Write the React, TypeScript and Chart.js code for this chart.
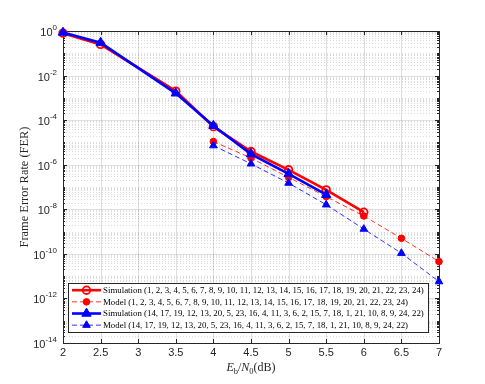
import React, { useEffect, useRef } from "react";
import { Chart, registerables } from "chart.js";

Chart.register(...registerables);

// ---- data ----
const xTicks = [2, 2.5, 3, 3.5, 4, 4.5, 5, 5.5, 6, 6.5, 7];
const yTickExps = [0, -2, -4, -6, -8, -10, -12, -14];

const simNaturalX = [2, 2.5, 3.5, 4, 4.5, 5, 5.5, 6];
const simNaturalY = [0.8, 0.25, 2.0e-3, 5.1e-5, 3.9e-6, 5.9e-7, 7.4e-8, 7.4e-9];

const modelNaturalX = [4, 4.5, 5, 5.5, 6, 6.5, 7];
const modelNaturalY = [1.1e-5, 2.0e-6, 2.7e-7, 3.7e-8, 5.0e-9, 5.0e-10, 4.5e-11];

const simPermX = [2, 2.5, 3.5, 4, 4.5, 5, 5.5];
const simPermY = [0.85, 0.3, 1.6e-3, 5.6e-5, 3.0e-6, 3.9e-7, 4.5e-8];

const modelPermX = [4, 4.5, 5, 5.5, 6, 6.5, 7];
const modelPermY = [7.2e-6, 1.1e-6, 1.5e-7, 1.6e-8, 1.3e-9, 1.07e-10, 5.7e-12];

const naturalOrder = [1, 2, 3, 4, 5, 6, 7, 8, 9, 10, 11, 12, 13, 14, 15, 16, 17, 18, 19, 20, 21, 22, 23, 24];
const permOrder = [14, 17, 19, 12, 13, 20, 5, 23, 16, 4, 11, 3, 6, 2, 15, 7, 18, 1, 21, 10, 8, 9, 24, 22];

const seriesNames = [
  `Simulation (${naturalOrder.join(", ")})`,
  `Model (${naturalOrder.join(", ")})`,
  `Simulation (${permOrder.join(", ")})`,
  `Model (${permOrder.join(", ")})`,
];

const yTitle = "Frame Error Rate (FER)";

const RED = "#ff0000";
const BLUE = "#0000ff";
const AXIS = "#262626";
const SANS = "'Liberation Sans', Arial, sans-serif";
const SERIF = "'Liberation Serif', 'DejaVu Serif', serif";

type Marker = { style: "circle" | "triangle"; r: number; fill: string; stroke: string; bw: number };

const markers: Marker[] = [
  { style: "circle", r: 3.8, fill: "rgba(255,255,255,0)", stroke: RED, bw: 1.8 },
  { style: "circle", r: 3.3, fill: RED, stroke: RED, bw: 1 },
  { style: "triangle", r: 5.4, fill: BLUE, stroke: BLUE, bw: 1 },
  { style: "triangle", r: 4.4, fill: BLUE, stroke: BLUE, bw: 1 },
];
const lineStyles = [
  { color: RED, width: 2.6, dash: [] as number[] },
  { color: "rgba(255,0,0,0.8)", width: 1, dash: [5, 3] },
  { color: BLUE, width: 2.6, dash: [] as number[] },
  { color: "rgba(0,0,255,0.8)", width: 1, dash: [5, 3] },
];

function pts(xs: number[], ys: number[]) {
  return xs.map((x, i) => ({ x, y: ys[i] }));
}

function drawMarker(ctx: CanvasRenderingContext2D, m: Marker, x: number, y: number) {
  ctx.save();
  ctx.setLineDash([]);
  ctx.beginPath();
  if (m.style === "circle") {
    ctx.arc(x, y, m.r, 0, Math.PI * 2);
  } else {
    let rad = 0;
    ctx.moveTo(x + Math.sin(rad) * m.r, y - Math.cos(rad) * m.r);
    rad += (2 * Math.PI) / 3;
    ctx.lineTo(x + Math.sin(rad) * m.r, y - Math.cos(rad) * m.r);
    rad += (2 * Math.PI) / 3;
    ctx.lineTo(x + Math.sin(rad) * m.r, y - Math.cos(rad) * m.r);
    ctx.closePath();
  }
  ctx.fillStyle = m.fill;
  ctx.fill();
  ctx.lineWidth = m.bw;
  ctx.strokeStyle = m.stroke;
  ctx.stroke();
  ctx.restore();
}

function fitFont(ctx: CanvasRenderingContext2D, text: string, family: string, target: number) {
  ctx.font = `10px ${family}`;
  const w = ctx.measureText(text).width;
  return (10 * target) / w;
}

const framePlugin = {
  id: "matlabFrame",
  beforeDraw(chart: any) {
    const ctx = chart.ctx as CanvasRenderingContext2D;
    ctx.save();
    ctx.fillStyle = "#ffffff";
    ctx.fillRect(0, 0, chart.width, chart.height);
    ctx.restore();
  },
  beforeDatasetsDraw(chart: any) {
    const ctx = chart.ctx as CanvasRenderingContext2D;
    const { left, right, top, bottom } = chart.chartArea;
    const xs = chart.scales.x;
    const ys = chart.scales.y;
    ctx.save();
    // y grid: solid at labelled decades, dotted elsewhere
    ctx.lineWidth = 1;
    for (let e = -14; e <= 0; e++) {
      for (let m = 1; m <= 9; m++) {
        const v = m * Math.pow(10, e);
        if (v > 1.0000001) break;
        const major = m === 1 && e % 2 === 0;
        const py = Math.round(ys.getPixelForValue(v)) + 0.5;
        ctx.beginPath();
        if (major) {
          ctx.setLineDash([]);
          ctx.strokeStyle = "rgba(38,38,38,0.15)";
        } else {
          ctx.setLineDash([1, 2]);
          ctx.strokeStyle = "rgba(38,38,38,0.16)";
        }
        ctx.moveTo(left, py);
        ctx.lineTo(right, py);
        ctx.stroke();
      }
    }
    // x major grid
    ctx.setLineDash([]);
    ctx.strokeStyle = "rgba(38,38,38,0.15)";
    xTicks.forEach((t) => {
      const px = Math.round(xs.getPixelForValue(t)) + 0.5;
      ctx.beginPath();
      ctx.moveTo(px, top);
      ctx.lineTo(px, bottom);
      ctx.stroke();
    });

    // axis box
    ctx.strokeStyle = AXIS;
    ctx.lineWidth = 1;
    ctx.strokeRect(Math.round(left) + 0.5, Math.round(top) + 0.5, Math.round(right - left), Math.round(bottom - top));

    // x ticks (top & bottom, inward)
    ctx.beginPath();
    xTicks.forEach((t) => {
      const px = Math.round(xs.getPixelForValue(t)) + 0.5;
      ctx.moveTo(px, bottom);
      ctx.lineTo(px, bottom - 4);
      ctx.moveTo(px, top);
      ctx.lineTo(px, top + 4);
    });
    // y ticks (left & right)
    for (let e = -14; e <= 0; e++) {
      for (let m = 1; m <= 9; m++) {
        const v = m * Math.pow(10, e);
        if (v > 1.0000001) break;
        const major = m === 1 && e % 2 === 0;
        const len = major ? 4 : 2;
        const py = Math.round(ys.getPixelForValue(v)) + 0.5;
        ctx.moveTo(left, py);
        ctx.lineTo(left + len, py);
        ctx.moveTo(right, py);
        ctx.lineTo(right - len, py);
      }
    }
    ctx.stroke();

    // x tick labels
    ctx.fillStyle = AXIS;
    ctx.font = `11px ${SANS}`;
    ctx.textAlign = "center";
    ctx.textBaseline = "middle";
    xTicks.forEach((t) => {
      ctx.fillText(String(t), xs.getPixelForValue(t), bottom + 10);
    });

    // y tick labels: 10^e
    yTickExps.forEach((e) => {
      const py = ys.getPixelForValue(Math.pow(10, e));
      const expStr = e === 0 ? "0" : "-" + Math.abs(e);
      ctx.font = `8px ${SANS}`;
      const ew = ctx.measureText(expStr).width;
      const xEnd = left - 6;
      ctx.textAlign = "left";
      ctx.textBaseline = "alphabetic";
      ctx.fillText(expStr, xEnd - ew, py - 1);
      ctx.font = `11px ${SANS}`;
      ctx.textAlign = "right";
      ctx.fillText("10", xEnd - ew, py + 5);
    });

    // y title
    const fsY = fitFont(ctx, yTitle, SERIF, 121);
    ctx.save();
    ctx.translate(25, (top + bottom) / 2);
    ctx.rotate(-Math.PI / 2);
    ctx.font = `${fsY}px ${SERIF}`;
    ctx.textAlign = "center";
    ctx.textBaseline = "middle";
    ctx.fillText(yTitle, 0, 0);
    ctx.restore();

    // x title: E_b/N_0(dB)
    const parts = [
      { t: "E", f: `italic 12px ${SERIF}`, dy: 0 },
      { t: "b", f: `8.5px ${SERIF}`, dy: 2.5 },
      { t: "/", f: `12px ${SERIF}`, dy: 0 },
      { t: "N", f: `italic 12px ${SERIF}`, dy: 0 },
      { t: "0", f: `8.5px ${SERIF}`, dy: 2.5 },
      { t: "(dB)", f: `12px ${SERIF}`, dy: 0 },
    ];
    let total = 0;
    const widths = parts.map((p) => {
      ctx.font = p.f;
      const w = ctx.measureText(p.t).width;
      total += w;
      return w;
    });
    let cx = (left + right) / 2 - total / 2;
    ctx.textAlign = "left";
    ctx.textBaseline = "alphabetic";
    parts.forEach((p, i) => {
      ctx.font = p.f;
      ctx.fillText(p.t, cx, 371 + p.dy);
      cx += widths[i];
    });
    ctx.restore();
  },
  afterDatasetsDraw(chart: any) {
    const ctx = chart.ctx as CanvasRenderingContext2D;
    ctx.save();
    const bx = 68.5, by = 283.5, bw = 360, bh = 49;
    ctx.fillStyle = "#ffffff";
    ctx.fillRect(bx, by, bw, bh);
    ctx.strokeStyle = AXIS;
    ctx.lineWidth = 1;
    ctx.setLineDash([]);
    ctx.strokeRect(bx, by, bw, bh);
    const fs = fitFont(ctx, seriesNames[0], SERIF, 321);
    ctx.font = `${fs}px ${SERIF}`;
    seriesNames.forEach((name, i) => {
      const y = 290.2 + i * 11.65;
      const ls = lineStyles[i];
      ctx.save();
      ctx.beginPath();
      ctx.strokeStyle = ls.color;
      ctx.lineWidth = ls.width;
      ctx.setLineDash(ls.dash);
      ctx.moveTo(72, y);
      ctx.lineTo(101, y);
      ctx.stroke();
      ctx.restore();
      drawMarker(ctx, markers[i], 86.5, y);
      ctx.fillStyle = "#000000";
      ctx.font = `${fs}px ${SERIF}`;
      ctx.textAlign = "left";
      ctx.textBaseline = "middle";
      ctx.fillText(name, 103, y + 0.5);
    });
    ctx.restore();
  },
};

function ds(i: number, data: { x: number; y: number }[], order: number) {
  const ls = lineStyles[i];
  const m = markers[i];
  return {
    label: seriesNames[i],
    data,
    borderColor: ls.color,
    borderWidth: ls.width,
    borderDash: ls.dash,
    pointStyle: m.style,
    pointRadius: m.r,
    pointBorderWidth: m.bw,
    pointBackgroundColor: m.fill,
    pointBorderColor: m.stroke,
    fill: false,
    tension: 0,
    clip: false as any,
    order,
  };
}

export default function App() {
  const ref = useRef<HTMLCanvasElement | null>(null);
  useEffect(() => {
    if (!ref.current) return;
    const chart = new Chart(ref.current, {
      type: "line",
      data: {
        datasets: [
          ds(0, pts(simNaturalX, simNaturalY), 4),
          ds(1, pts(modelNaturalX, modelNaturalY), 3),
          ds(2, pts(simPermX, simPermY), 2),
          ds(3, pts(modelPermX, modelPermY), 1),
        ] as any,
      },
      options: {
        animation: false,
        responsive: false,
        devicePixelRatio: 1,
        layout: { padding: { left: 63, right: 46, top: 31, bottom: 41 } },
        scales: {
          x: { type: "linear", min: 2, max: 7, display: false },
          y: { type: "logarithmic", min: 1e-14, max: 1, display: false },
        },
        plugins: { legend: { display: false }, tooltip: { enabled: false } },
        events: [],
      },
      plugins: [framePlugin],
    });
    return () => chart.destroy();
  }, []);
  return (
    <div style={{ position: "fixed", left: 0, top: 0, width: 485, height: 384, background: "#fff" }}>
      <canvas ref={ref} width={485} height={384} style={{ width: 485, height: 384, display: "block" }} />
    </div>
  );
}
